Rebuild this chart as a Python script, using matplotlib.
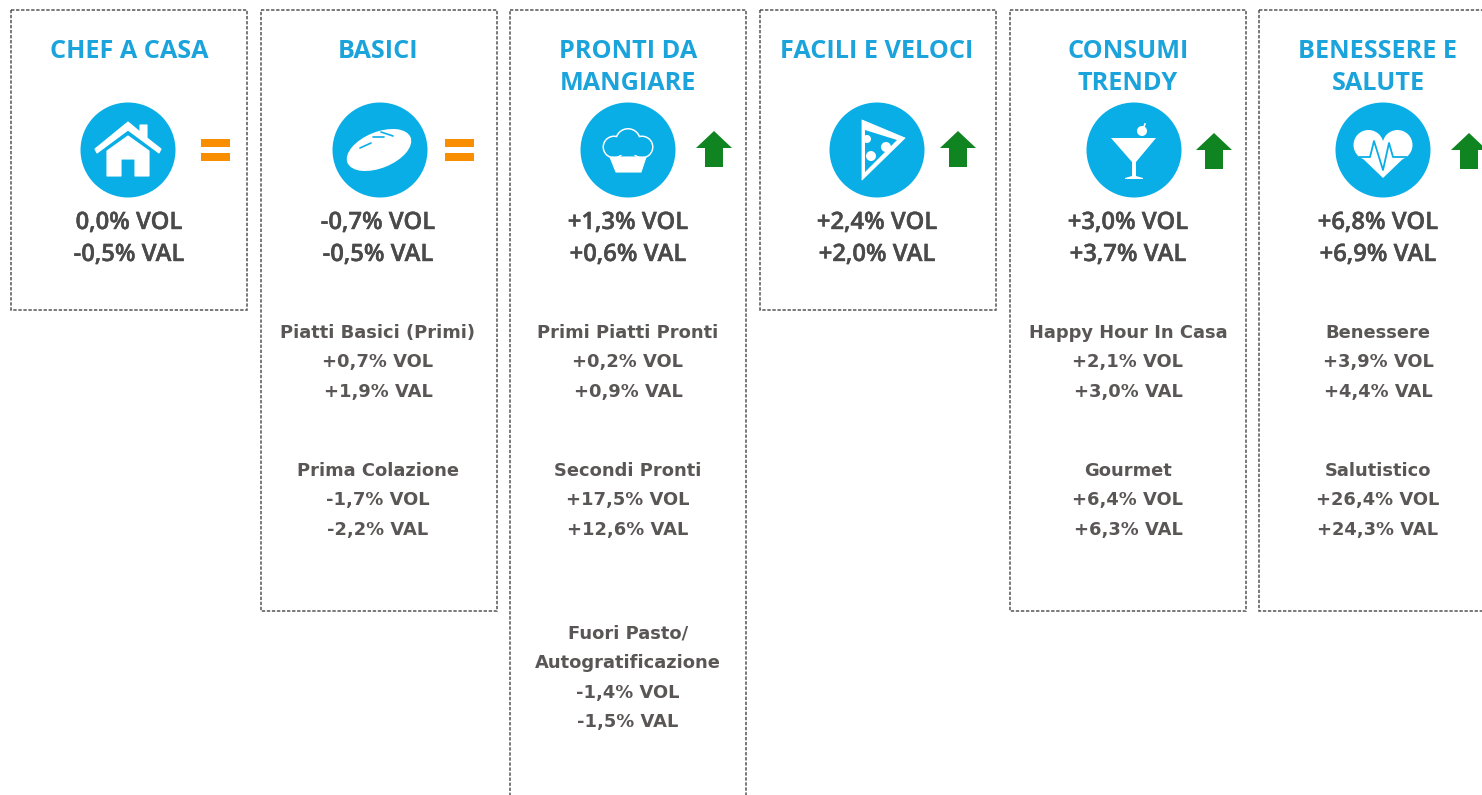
import matplotlib
matplotlib.use("Agg")
import matplotlib.pyplot as plt
import matplotlib.patheffects as pe
from matplotlib.patches import Circle, Polygon, Rectangle, Ellipse

titles = ["CHEF A CASA", "BASICI", "PRONTI DA\nMANGIARE", "FACILI E VELOCI", "CONSUMI\nTRENDY", "BENESSERE E\nSALUTE"]
vol = ["0,0%", "-0,7%", "+1,3%", "+2,4%", "+3,0%", "+6,8%"]
val = ["-0,5%", "-0,5%", "+0,6%", "+2,0%", "+3,7%", "+6,9%"]
trend = ["=", "=", "up", "up", "up", "up"]
icons = ["house", "bread", "muffin", "pizza", "cocktail", "heart"]
subs = [
    [],
    [("Piatti Basici (Primi)", "+0,7%", "+1,9%"), ("Prima Colazione", "-1,7%", "-2,2%")],
    [("Primi Piatti Pronti", "+0,2%", "+0,9%"), ("Secondi Pronti", "+17,5%", "+12,6%"),
     ("Fuori Pasto/\nAutogratificazione", "-1,4%", "-1,5%")],
    [],
    [("Happy Hour In Casa", "+2,1%", "+3,0%"), ("Gourmet", "+6,4%", "+6,3%")],
    [("Benessere", "+3,9%", "+4,4%"), ("Salutistico", "+26,4%", "+24,3%")],
]

BLUE, TITLE, ORANGE, GREEN = "#0AAEE6", "#1BA3DC", "#F98F00", "#0F8420"
MAIN, SUB, EDGE = "#4A4A4A", "#5A5656", "#555555"

box_x = [11, 261, 510, 760, 1010, 1259]
box_bottom = [310, 611, 800, 310, 611, 611]
text_x = [129, 378, 628, 877, 1128, 1378]
icon_x = [128, 380, 628, 877, 1134, 1383]
mark_x = [215, 459, 714, 958, 1214, 1469]
mark_top = [0, 0, 131, 131, 133, 133]
sub_y = [[], [333, 471], [333, 471, 634], [], [333, 471], [333, 471]]

fig = plt.figure(figsize=(14.82, 7.95), dpi=100, facecolor="white")
ax = fig.add_axes([0, 0, 1, 1])
ax.set_xlim(0, 1482); ax.set_ylim(795, 0); ax.axis("off")
W = "white"

def icon(kind, cx, cy):
    ax.add_patch(Circle((cx, cy), 47.5, fc=BLUE, ec="none"))
    def P(pts, fc=W, lw=0):
        ax.add_patch(Polygon([(cx+a, cy+b) for a, b in pts], closed=True, fc=fc,
                             ec=fc if lw else "none", lw=lw, joinstyle="round"))
    def C(dx, dy, r, fc=W):
        ax.add_patch(Circle((cx+dx, cy+dy), r, fc=fc, ec="none"))
    if kind == "house":
        P([(-33,-1),(0,-28),(12,-18),(12,-25),(19,-25),(19,-12),(33,-1),(31,3),(0,-20),(-31,3)], lw=0.8)
        P([(-21,1),(0,-14),(21,1),(21,26),(7,26),(7,9),(-7,9),(-7,26),(-21,26)], lw=0.8)
    elif kind == "bread":
        ax.add_patch(Ellipse((cx-1, cy), 68, 36, angle=-22, fc=W, ec="none"))
        for x0, y0, x1, y1 in [(-20,-2,-9,-7), (-7,-13,4,-13), (1,-18,13,-14)]:
            ax.plot([cx+x0, cx+x1], [cy+y0, cy+y1], color=BLUE, lw=1.2, solid_capstyle="round")
    elif kind == "muffin":
        lobes = [(-14,-3,10), (14,-3,10), (0,-9,11.5)]
        for dx, dy, r in lobes:
            C(dx, dy, r+1.5)
        for dx, dy, r in lobes:
            C(dx, dy, r, BLUE)
        ax.add_patch(Rectangle((cx-14, cy-9), 28, 14, fc=BLUE, ec="none"))
        P([(-18,7),(18,7),(13,22),(-12,22)], lw=0.8)
    elif kind == "pizza":
        P([(-15,-30),(28,-12),(-15,30)], lw=0.6)
        P([(-12,-20),(20,-10),(-12,22)], fc=BLUE)
        C(-10, -11, 4); C(9, -3, 5); C(-6, 6, 5)
    elif kind == "cocktail":
        P([(-23,-12),(22,-12),(2,12),(2,26),(9,28),(9,29),(-9,29),(-9,28),(-2,26),(-2,12)])
        C(8, -19, 5)
        ax.plot([cx+9, cx+11], [cy-21, cy-26], color=W, lw=1.2)
    else:
        C(-14.5, -5, 15); C(14.5, -5, 15)
        P([(-26,3),(0,28),(26,3),(0,-8)])
        xs = [-23, -13, -9, 0, 6, 10, 23]
        ys = [7, 7, -9, 20, -7, 7, 7]
        ax.plot([cx+a for a in xs], [cy+b for b in ys], color=BLUE, lw=1.3)

stroke = [pe.withStroke(linewidth=0.3, foreground=MAIN)]
for i, t in enumerate(titles):
    ax.add_patch(Rectangle((box_x[i], 10), 236, box_bottom[i]-10, fc="none", ec=EDGE,
                           lw=1.1, ls=(0, (2.2, 1.1))))
    for k, line in enumerate(t.split("\n")):
        ax.text(text_x[i], 51 + 33*k, line, ha="center", va="center", color=TITLE,
                fontsize=18.2, fontweight="bold", family="Open Sans")
    icon(icons[i], icon_x[i], 150)
    m = mark_x[i]
    if trend[i] == "=":
        ax.add_patch(Rectangle((m-14.5, 139), 29, 8, fc=ORANGE, ec="none"))
        ax.add_patch(Rectangle((m-14.5, 153), 29, 8, fc=ORANGE, ec="none"))
    else:
        top = mark_top[i]
        ax.add_patch(Polygon([(m, top), (m+18, top+17), (m+9, top+17), (m+9, top+36),
                              (m-9, top+36), (m-9, top+17), (m-18, top+17)], fc=GREEN, ec="none"))
    for y, s in [(223, f"{vol[i]} VOL"), (255, f"{val[i]} VAL")]:
        ax.text(text_x[i], y, s, ha="center", va="center", color=MAIN, fontsize=17.2,
                fontweight="semibold", family="Open Sans", path_effects=stroke)
    for (name, v1, v2), y in zip(subs[i], sub_y[i]):
        lines = name.split("\n") + [f"{v1} VOL", f"{v2} VAL"]
        for k, line in enumerate(lines):
            ax.text(text_x[i], y + k*29.3, line, ha="center", va="center", color=SUB,
                    fontsize=12.9, fontweight="bold", family="DejaVu Sans")
fig.savefig("out.png", dpi=100)
